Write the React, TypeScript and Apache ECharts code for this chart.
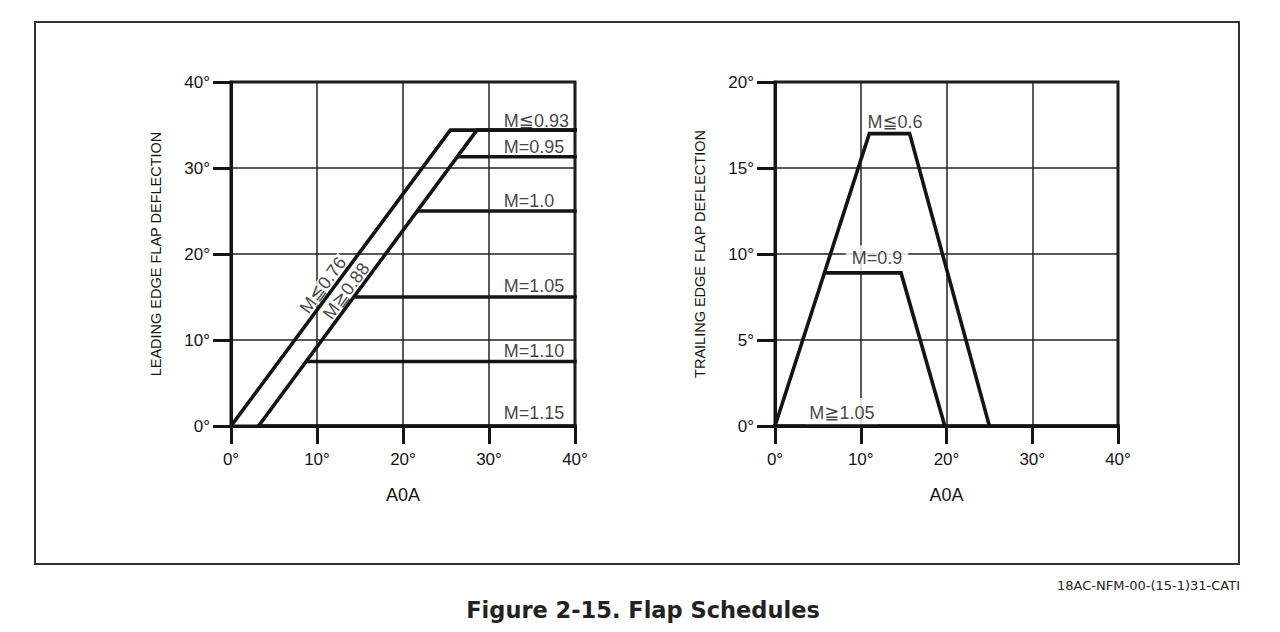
import React, { useEffect, useRef } from "react";
import * as echarts from "echarts";

// ---- Data (degrees) ----
const leTicksX = [0, 10, 20, 30, 40];
const leTicksY = [0, 10, 20, 30, 40];
const teTicksY = [0, 5, 10, 15, 20];

// Leading edge flap schedule (AOA, deflection)
const leM076: number[][] = [[0, 0], [25.5, 34.4], [40, 34.4]];
const leM088: number[][] = [[3.2, 0], [28.6, 34.4], [40, 34.4]];
const leM095: number[][] = [[26.4, 31.3], [40, 31.3]];
const leM100: number[][] = [[21.8, 25], [40, 25]];
const leM105: number[][] = [[14.4, 15], [40, 15]];
const leM110: number[][] = [[8.8, 7.5], [40, 7.5]];
const leM115: number[][] = [[3.2, 0], [40, 0]];

// Trailing edge flap schedule
const teM06: number[][] = [[0, 0], [11, 17], [15.7, 17], [25, 0]];
const teM09: number[][] = [[5.8, 8.9], [14.7, 8.9], [19.8, 0]];
const teM105: number[][] = [[0, 0], [40, 0]];

// Annotation labels
const leLabelTexts = ["M≦0.93", "M=0.95", "M=1.0", "M=1.05", "M=1.10", "M=1.15"];
const leLabelY = [35.5, 32.4, 26.2, 16.3, 8.7, 1.55];
const leLabelX = 31.9;
const leDiagTexts = ["M≦0.76", "M≧0.88"];
const leDiagPos: number[][] = [[10.7, 16.4], [13.4, 15.7]];
const teLabelTexts = ["M≦0.6", "M=0.9", "M≧1.05"];
const teLabelPos: number[][] = [[14.0, 17.7], [11.9, 9.75], [7.8, 0.78]];

const FONT = "'Liberation Sans', Arial, 'DejaVu Sans', sans-serif";
const INK = "#141414";

export default function App() {
  const ref = useRef<HTMLDivElement>(null);

  useEffect(() => {
    if (!ref.current) return;
    const chart = echarts.init(ref.current, undefined, { renderer: "svg" });

    const makeX = (gridIndex: number) => ({
      type: "value",
      gridIndex,
      min: leTicksX[0],
      max: leTicksX[leTicksX.length - 1],
      interval: 10,
      name: "A0A",
      nameLocation: "middle",
      nameGap: 60,
      nameTextStyle: { fontSize: 18, color: INK, fontFamily: FONT },
      axisLine: { show: true, onZero: false, lineStyle: { color: INK, width: 3 } },
      axisTick: { show: true, inside: false, length: 18, lineStyle: { color: INK, width: 3 } },
      splitLine: { show: true, lineStyle: { color: "#222", width: 1.5 } },
      axisLabel: { formatter: "{value}°", fontSize: 17, color: INK, margin: 25, fontFamily: FONT },
    });

    const makeY = (gridIndex: number, ticks: number[], name: string) => ({
      type: "value",
      gridIndex,
      min: ticks[0],
      max: ticks[ticks.length - 1],
      interval: ticks[1] - ticks[0],
      name,
      nameLocation: "middle",
      nameGap: 68,
      nameTextStyle: { fontSize: 14.5, color: INK, fontFamily: FONT },
      axisLine: { show: true, onZero: false, lineStyle: { color: INK, width: 3 } },
      axisTick: { show: true, inside: false, length: 18, lineStyle: { color: INK, width: 3 } },
      splitLine: { show: true, lineStyle: { color: "#222", width: 1.5 } },
      axisLabel: { formatter: "{value}°", fontSize: 17, color: INK, margin: 21, fontFamily: FONT },
    });

    const line = (name: string, data: number[][], idx: number) => ({
      type: "line",
      name,
      data,
      xAxisIndex: idx,
      yAxisIndex: idx,
      symbol: "none",
      z: 3,
      lineStyle: { color: INK, width: 3.6, cap: "square", join: "miter" },
      silent: true,
    });

    const labelStyleBase = {
      show: true,
      fontSize: 18,
      color: "#111",
      fontFamily: FONT,
      lineHeight: 18,
    };

    const leLabelData = leLabelTexts.map((t, i) => ({
      name: t,
      value: [leLabelX, leLabelY[i]],
      label: { ...labelStyleBase, position: "right", distance: 0, formatter: t, align: "left", offset: [-2, 0] },
    }));
    const leDiagData = leDiagTexts.map((t, i) => ({
      name: t,
      value: leDiagPos[i],
      label: {
        ...labelStyleBase,
        position: "inside",
        formatter: t,
        rotate: 53.6,
        lineHeight: 15,
        backgroundColor: "#fff",
        padding: [0, 2, 0, 2],
      },
    }));
    const teLabelData = teLabelTexts.map((t, i) => {
      const pads = [[0, 2, 0, 2], [7, 6, 1, 6], [11, 3, 0, 3]];
      return {
        name: t,
        value: teLabelPos[i],
        label: {
          ...labelStyleBase,
          position: "inside",
          formatter: t,
          backgroundColor: "#fff",
          padding: pads[i],
        },
      };
    });

    const labelSeries = (data: any[], idx: number) => ({
      type: "scatter",
      data,
      xAxisIndex: idx,
      yAxisIndex: idx,
      symbolSize: 1,
      z: 1,
      itemStyle: { color: "rgba(0,0,0,0)" },
      silent: true,
    });

    chart.setOption({
      animation: false,
      backgroundColor: "#fff",
      textStyle: { fontFamily: FONT },
      grid: [
        { left: 231, top: 82, width: 344, height: 344, show: true, borderColor: INK, borderWidth: 3, backgroundColor: "transparent" },
        { left: 775, top: 82, width: 343, height: 344, show: true, borderColor: INK, borderWidth: 3, backgroundColor: "transparent" },
      ],
      xAxis: [makeX(0), makeX(1)],
      yAxis: [
        makeY(0, leTicksY, "LEADING EDGE FLAP DEFLECTION"),
        makeY(1, teTicksY, "TRAILING EDGE FLAP DEFLECTION"),
      ],
      series: [
        line("M≦0.76", leM076, 0),
        line("M≧0.88", leM088, 0),
        line("M=0.95", leM095, 0),
        line("M=1.0", leM100, 0),
        line("M=1.05", leM105, 0),
        line("M=1.10", leM110, 0),
        line("M=1.15", leM115, 0),
        line("M≦0.6", teM06, 1),
        line("M=0.9", teM09, 1),
        line("M≧1.05", teM105, 1),
        labelSeries(leLabelData, 0),
        labelSeries(leDiagData, 0),
        labelSeries(teLabelData, 1),
      ],
      graphic: [
        {
          type: "rect",
          shape: { x: 35, y: 22, width: 1204, height: 542 },
          style: { fill: "none", stroke: "#333", lineWidth: 2 },
          silent: true,
        },
        {
          type: "text",
          x: 1240,
          y: 585,
          style: {
            text: "18AC-NFM-00-(15-1)31-CATI",
            align: "right",
            verticalAlign: "middle",
            fontSize: 13,
            fill: "#222",
            fontFamily: "'DejaVu Sans', sans-serif",
          },
        },
        {
          type: "text",
          x: 643,
          y: 610,
          style: {
            text: "Figure 2-15. Flap Schedules",
            align: "center",
            verticalAlign: "middle",
            fontSize: 22.5,
            fontWeight: "bold",
            fill: "#222",
            fontFamily: "'DejaVu Sans', 'Noto Sans', sans-serif",
          },
        },
      ],
    });

    return () => chart.dispose();
  }, []);

  return (
    <div
      ref={ref}
      style={{ position: "fixed", left: 0, top: 0, width: 1280, height: 632, background: "#fff" }}
    />
  );
}
